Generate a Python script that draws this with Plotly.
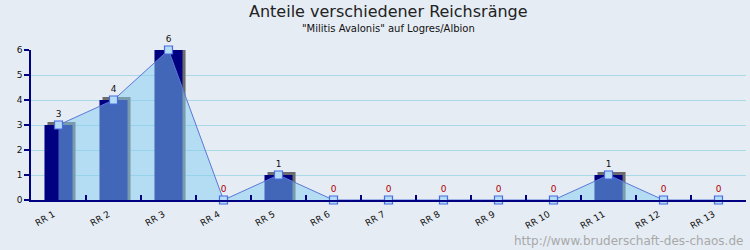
import plotly.graph_objects as go

categories = ["RR 1", "RR 2", "RR 3", "RR 4", "RR 5", "RR 6", "RR 7",
              "RR 8", "RR 9", "RR 10", "RR 11", "RR 12", "RR 13"]
values = [3, 4, 6, 0, 1, 0, 0, 0, 0, 0, 1, 0, 0]
y_ticks = [0, 1, 2, 3, 4, 5, 6]

title = "Anteile verschiedener Reichsränge"
subtitle = "\"Militis Avalonis\" auf Logres/Albion"
watermark = "http://www.bruderschaft-des-chaos.de"

BG = "#e5ecf4"
NAVY = "#000080"
BAR_W = 0.51
DEPTH_X = 0.055   # 3D depth in category units
DEPTH_Y = 0.12    # 3D depth in value units

fig = go.Figure()

# 3D shadow (grey) behind bars
fig.add_trace(go.Bar(
    x=categories,
    y=[v + DEPTH_Y if v > 0 else 0 for v in values],
    width=BAR_W, offset=-BAR_W / 2 + DEPTH_X,
    marker=dict(color="#6c6c6c", line=dict(width=0)),
    hoverinfo="skip", showlegend=False,
))
# front navy bars
fig.add_trace(go.Bar(
    x=categories, y=values,
    width=BAR_W, offset=-BAR_W / 2,
    marker=dict(color=NAVY, line=dict(width=0)),
    showlegend=False,
))
# area + line + markers + labels
fig.add_trace(go.Scatter(
    x=categories, y=values,
    mode="lines+markers+text",
    fill="tozeroy",
    fillcolor="rgba(132,204,240,0.5)",
    line=dict(color="#5a78d8", width=1),
    marker=dict(symbol="square", size=8, color="#b4dcf6",
                line=dict(color="#4a6ae0", width=1.2)),
    text=[str(v) for v in values],
    textposition="top center",
    textfont=dict(family="DejaVu Sans", size=9,
                  color=["#111111" if v > 0 else "#b00000" for v in values]),
    cliponaxis=False,
    showlegend=False,
))

fig.update_layout(
    width=750, height=250,
    margin=dict(l=31, r=4, t=50, b=50),
    paper_bgcolor=BG, plot_bgcolor=BG,
    barmode="overlay",
    font=dict(family="DejaVu Sans", color="#111111"),
    xaxis=dict(
        type="category", range=[-0.5, 12.5],
        showline=True, linecolor=NAVY, linewidth=1.5,
        ticks="inside", tickson="boundaries", ticklen=5, tickcolor=NAVY,
        tickwidth=1.5,
        showgrid=False, zeroline=False,
        tickangle=-30, tickfont=dict(size=9, color="#111111"),
        ticklabelshift=-5, ticklabelstandoff=4,
    ),
    yaxis=dict(
        range=[0, 6], tickvals=y_ticks,
        showline=True, linecolor=NAVY, linewidth=1.5,
        ticks="outside", ticklen=5, tickcolor=NAVY, tickwidth=1.5,
        showgrid=True, gridcolor="#a9d8e6", gridwidth=1,
        zeroline=False,
        tickfont=dict(size=9, color="#111111"),
    ),
    annotations=[
        dict(text=title, x=0.5, y=1, xref="paper", yref="paper",
             xanchor="center", yanchor="top", showarrow=False,
             font=dict(size=16, color="#222222", family="DejaVu Sans"),
             yshift=50),
        dict(text=subtitle, x=0.5, y=1, xref="paper", yref="paper",
             xanchor="center", yanchor="top", showarrow=False,
             font=dict(size=10, color="#111111", family="DejaVu Sans"),
             yshift=29),
        dict(text=watermark, x=1, y=0, xref="paper", yref="paper",
             xanchor="right", yanchor="bottom", showarrow=False,
             font=dict(size=12, color="#a8a8a8", family="DejaVu Sans"),
             yshift=-50, xshift=-1),
    ],
)

fig.write_html("out.html")
